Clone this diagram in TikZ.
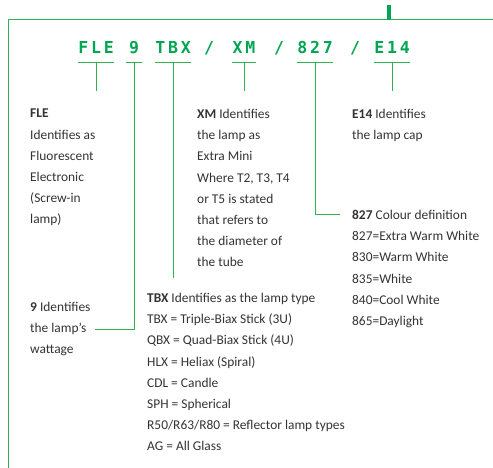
\documentclass[tikz,border=0pt]{standalone}
\usepackage{fontspec}
\setmainfont{Carlito}
\newfontfamily\codefont{DejaVu Sans Mono}[LetterSpace=17]
\definecolor{gegreen}{HTML}{00A651}
\definecolor{linegreen}{HTML}{2EB34F}
\definecolor{txtgray}{HTML}{333333}

\begin{document}
\begin{tikzpicture}[x=1pt,y=-1pt,
    code node/.style={anchor=base,inner sep=0pt,text=gegreen,
      font=\codefont\bfseries\fontsize{16.5}{16.5}\selectfont},
    note node/.style={anchor=north west,inner sep=0pt,align=left,text=txtgray,
      font=\fontsize{13.4}{21.2}\selectfont},
    link/.style={draw=linegreen,line width=1pt}]
    \useasboundingbox (0,0) rectangle (493,468);
    % frame and tick
    \draw[link] (8,468) |- (493,20);
    \draw[gegreen,line width=4pt] (389,5) -- (389,20);
    % the code
    \node[code node] (fle) at (96,54) {FLE};
    \node[code node,minimum width=16pt] (nine) at (134,54) {9};
    \node[code node] (tbx) at (173,54) {TBX};
    \node[code node] (s1) at (209,54) {/};
    \node[code node] (xm) at (244,54) {XM};
    \node[code node] (s2) at (279,54) {/};
    \node[code node] (cct) at (315,54) {827};
    \node[code node] (s3) at (355,54) {/};
    \node[code node] (cap) at (392,54) {E14};
    % the notes
    \node[note node] (flenote) at (30,109) {\textbf{FLE}\\Identifies as\\Fluorescent\\Electronic\\(Screw-in\\lamp)};
    \node[note node] (xmnote) at (197,109) {\textbf{XM} Identifies\\the lamp as\\Extra Mini\\Where T2, T3, T4\\or T5 is stated\\that refers to\\the diameter of\\the tube};
    \node[note node] (capnote) at (352,109) {\textbf{E14} Identifies\\the lamp cap};
    \node[note node] (cctnote) at (352,210) {\textbf{827} Colour definition\\827=Extra Warm White\\830=Warm White\\835=White\\840=Cool White\\865=Daylight};
    \node[note node] (ninenote) at (30,302) {\textbf{9} Identifies\\the lamp’s\\wattage};
    \node[note node] (tbxnote) at (147,293) {\textbf{TBX} Identifies as the lamp type\\TBX = Triple-Biax Stick (3U)\\QBX = Quad-Biax Stick (4U)\\HLX = Heliax (Spiral)\\CDL = Candle\\SPH = Spherical\\R50/R63/R80 = Reflector lamp types\\AG = All Glass};
    % bars under the code
    \foreach \n in {fle,nine,tbx,xm,cct,cap}
      \draw[link] ([yshift=-9pt]\n.base west) -- ([yshift=-9pt]\n.base east);
    % connectors
    \draw[link,shorten >=18pt] ([yshift=-9pt]fle.base) -- (fle |- flenote.north);
    \draw[link,shorten >=18pt] ([yshift=-9pt]xm.base) -- (xm |- xmnote.north);
    \draw[link,shorten >=18pt] ([yshift=-9pt]cap.base) -- (cap |- capnote.north);
    \draw[link,shorten >=15pt] ([yshift=-9pt]tbx.base) -- (tbx |- tbxnote.north);
    \draw[link] ([yshift=-9pt]nine.base) |- ([xshift=4pt]ninenote.east);
    \draw[link] ([yshift=-9pt]cct.base) |- ([xshift=-12pt,yshift=-5pt]cctnote.north west);
\end{tikzpicture}
\end{document}
